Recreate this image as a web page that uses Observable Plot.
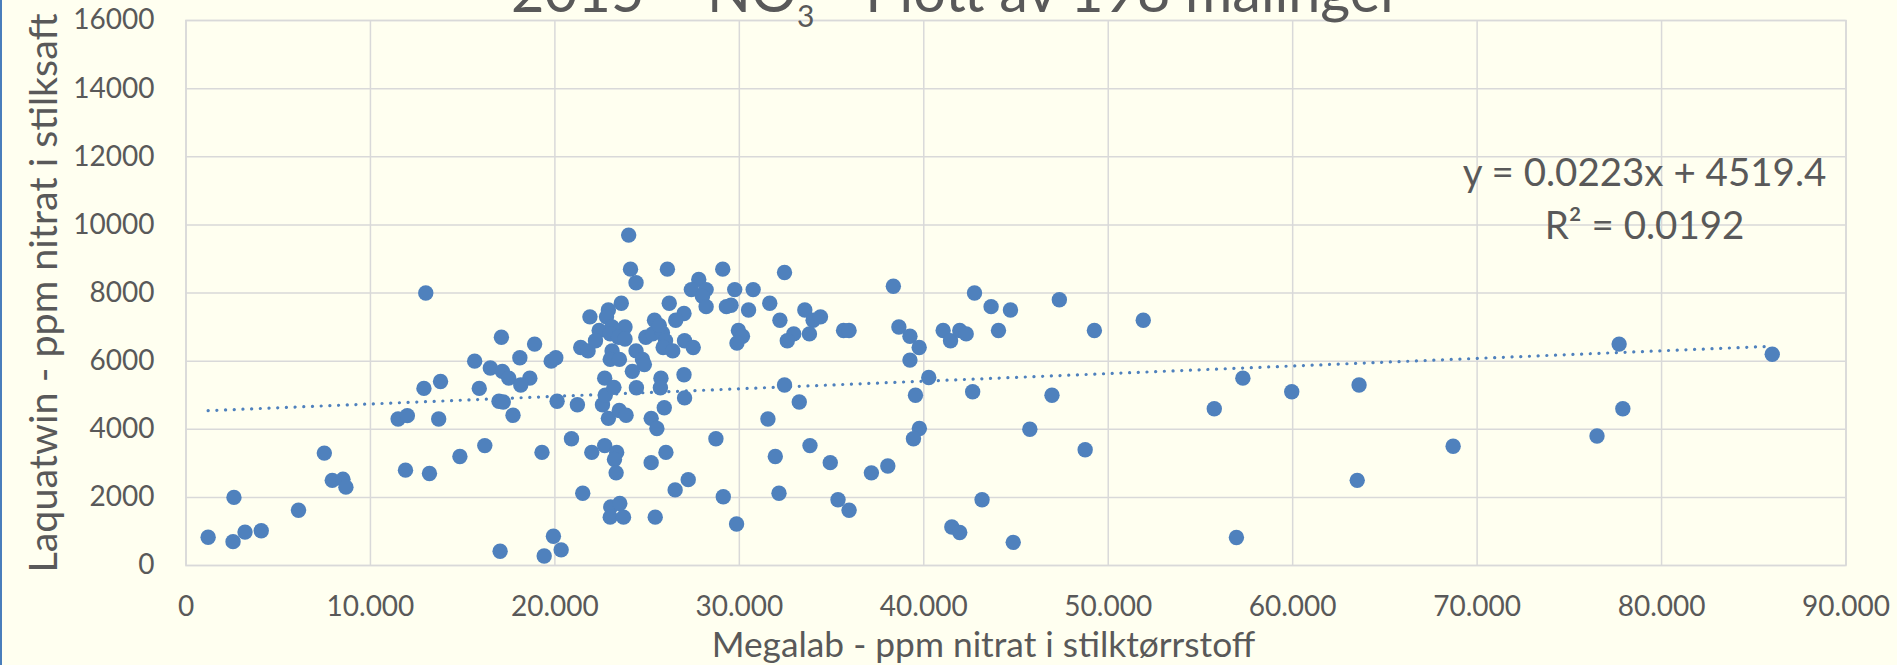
<!DOCTYPE html>
<html>
<head>
<meta charset="utf-8">
<script src="https://cdn.jsdelivr.net/npm/d3@7"></script>
<script src="https://cdn.jsdelivr.net/npm/@observablehq/plot@0.6"></script>
<style>
  html, body { margin: 0; padding: 0; background: #fffff0; }
  #chart { position: relative; width: 1897px; height: 665px; overflow: hidden; background: #fffff0; }
  #chart::before { content: ""; position: absolute; left: 0; top: 0; width: 2px; height: 665px; background: #4a7ebb; z-index: 2; }
  #title { position: absolute; left: 0; top: 0; z-index: 1; }
  #plot { position: absolute; left: 0; top: 0; }
</style>
</head>
<body>
<div id="chart">
  <div id="plot"></div>
  <svg id="title" width="1897" height="40" font-family="Lato, sans-serif" fill="#595959">
    <text x="956" y="12" text-anchor="middle" font-size="57.5">2015 – NO<tspan dy="15" font-size="30">3</tspan><tspan dy="-15"> - Plott av 198 målinger</tspan></text>
  </svg>
</div>
<script>
// Megalab (x) and Laquatwin (y) nitrate readings, one entry per sample
const megalab = [
  1200, 2550, 2600, 3200, 4080, 6100, 7500, 7930, 8510, 8670,
  11500, 12000, 13700, 11900, 13200, 14850, 13000, 12900, 13800, 16200,
  19300, 20900, 22000, 22700, 23350, 23230, 23320, 25220, 26020, 27230,
  26520, 28730, 29130, 29850, 21510, 23030, 23520, 23000, 23720, 25440,
  19920, 20340, 19420, 17030, 16970, 17200, 17730, 20120, 21220, 22580,
  22900, 23490, 23860, 25220, 25530, 25930, 27030, 22730, 33250, 31550,
  31950, 33830, 34930, 37160, 38050, 32150, 35350, 35950, 39550, 39760,
  39440, 43160, 41520, 41950, 44850, 32450, 29750, 30750, 29550, 30500,
  31650, 32200, 33550, 34000, 34400, 32950, 32600, 33800, 35650, 35950,
  29950, 30170, 29870, 38350, 38650, 39250, 39750, 39250, 40270, 32450,
  41050, 41450, 41950, 42300, 42750, 43650, 44050, 44700, 42650, 45750,
  46950, 47350, 48750, 49250, 51900, 55750, 57300, 56950, 59950, 63600,
  63500, 68700, 76500, 77700, 77900, 86000, 24000, 24100, 24400, 26100,
  29100, 27800, 27400, 28200, 28000, 28200, 29300, 23600, 26200, 27000,
  26550, 25400, 22900, 22800, 21900, 23800, 22400, 23100, 21400, 21800,
  22200, 23000, 23450, 23800, 23100, 23000, 23500, 24400, 24750, 24850,
  24200, 22700, 23200, 24420, 25750, 25720, 27000, 24930, 25300, 25830,
  26000, 25870, 26390, 27030, 27500, 25660, 15650, 17100, 18900, 18100,
  16500, 17150, 17500, 18640, 18150, 15900, 19800, 20050
];
const laquatwin = [
  830, 700, 2000, 980, 1020, 1620, 3300, 2500, 2530, 2300,
  4300, 4400, 4300, 2800, 2700, 3200, 8000, 5200, 5400, 3520,
  3320, 3720, 3320, 3520, 3320, 3110, 2720, 3020, 3320, 2520,
  2220, 3720, 2020, 1220, 2120, 1720, 1820, 1420, 1420, 1420,
  860, 460, 280, 420, 4820, 4800, 4410, 4820, 4720, 4720,
  4320, 4550, 4410, 4320, 4020, 4630, 4920, 5000, 4800, 4300,
  3200, 3520, 3020, 2720, 2920, 2120, 1930, 1620, 5000, 4020,
  3720, 1930, 1130, 970, 680, 8600, 8100, 8100, 7640, 7500,
  7700, 7200, 7500, 7200, 7300, 6800, 6600, 6800, 6900, 6900,
  6900, 6730, 6530, 8200, 7000, 6730, 6400, 6030, 5520, 5300,
  6900, 6600, 6900, 6800, 8000, 7600, 6900, 7500, 5100, 4000,
  5000, 7800, 3400, 6900, 7200, 4600, 5500, 820, 5100, 5300,
  2500, 3500, 3800, 6500, 4600, 6200, 9700, 8700, 8300, 8700,
  8700, 8400, 8100, 8100, 7900, 7600, 7600, 7700, 7700, 7400,
  7200, 7200, 7500, 7300, 7300, 7000, 6900, 7000, 6400, 6300,
  6600, 6800, 6700, 6650, 6300, 6050, 6050, 6300, 6050, 5900,
  5700, 5500, 5230, 5220, 5500, 5220, 5600, 6700, 6800, 6830,
  6600, 6400, 6300, 6600, 6400, 7050, 6000, 6700, 6500, 6100,
  5800, 5700, 5500, 5500, 5300, 5200, 6000, 6100
];

const xTicks = [0, 10000, 20000, 30000, 40000, 50000, 60000, 70000, 80000, 90000];
const yTicks = [0, 2000, 4000, 6000, 8000, 10000, 12000, 14000, 16000];

// Linear trendline fitted to the samples
const slope = 0.0223;
const intercept = 4519.4;
const rSquared = 0.0192;

const samples = megalab.map((x, i) => ({x, y: laquatwin[i]}));
const trend = d3.extent(megalab).map(x => ({x, y: slope * x + intercept}));

const fmtThousands = d => d === 0 ? "0" : d3.format(",.0f")(d).replace(/,/g, ".");
const fmtNum = (v, n) => v.toFixed(n);

const ink = "#595959";
const blue = "#4f81bd";
const gridColor = "#d9d9d9";

const chart = Plot.plot({
  width: 1897,
  height: 665,
  marginLeft: 185.5,
  marginRight: 51.5,
  marginTop: 20,
  marginBottom: 100,
  style: {background: "transparent", fontFamily: "Lato, sans-serif", color: ink, overflow: "visible"},
  x: {domain: [0, 90000]},
  y: {domain: [0, 16000]},
  marks: [
    Plot.gridX(xTicks, {stroke: gridColor, strokeOpacity: 1, strokeWidth: 1.5}),
    Plot.gridY(yTicks, {stroke: gridColor, strokeOpacity: 1, strokeWidth: 1.5}),
    Plot.frame({stroke: gridColor, strokeWidth: 1.5}),
    Plot.axisX(xTicks, {tickSize: 0, tickPadding: 31, fontSize: 28, tickFormat: fmtThousands, fill: ink, label: null}),
    Plot.axisY(yTicks, {tickSize: 0, tickPadding: 31.5, fontSize: 28, tickFormat: d => String(d), fill: ink, label: null}),
    Plot.line(trend, {x: "x", y: "y", stroke: blue, strokeWidth: 3.2, strokeDasharray: "0.1 8.6", strokeLinecap: "round"}),
    Plot.dot(samples, {x: "x", y: "y", r: 7.7, fill: blue, stroke: null}),
    Plot.text([`y = ${fmtNum(slope, 4)}x + ${fmtNum(intercept, 1)}`], {
      frameAnchor: "top-right", dx: -201.5, dy: 165, lineAnchor: "bottom", textAnchor: "middle", fontSize: 38.5, fill: ink
    }),
    Plot.text([`R² = ${fmtNum(rSquared, 4)}`], {
      frameAnchor: "top-right", dx: -201.5, dy: 218, lineAnchor: "bottom", textAnchor: "middle", fontSize: 38.5, fill: ink
    }),
    Plot.text(["Megalab - ppm nitrat i stilktørrstoff"], {
      frameAnchor: "bottom", dx: -32.5, dy: 91, lineAnchor: "bottom", textAnchor: "middle", fontSize: 35.3, fill: ink
    }),
    Plot.text(["Laquatwin - ppm nitrat i stilksaft"], {
      frameAnchor: "left", dx: -129.5, rotate: -90, lineAnchor: "bottom", textAnchor: "middle", fontSize: 39.5, fill: ink
    })
  ]
});

document.getElementById("plot").appendChild(chart);
</script>
</body>
</html>
